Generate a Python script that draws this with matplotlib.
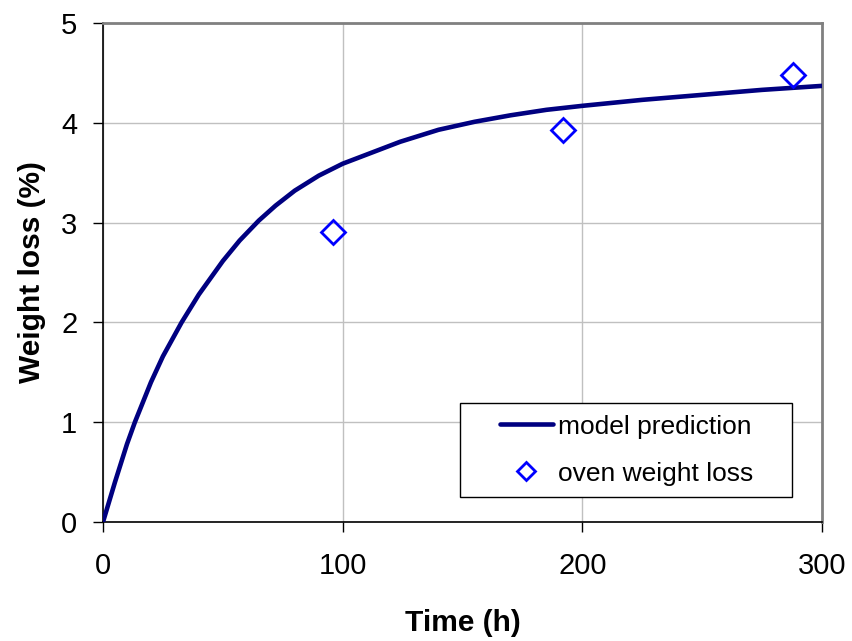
import numpy as np
import matplotlib.pyplot as plt
from matplotlib.patches import Rectangle

plt.rcParams['font.family'] = ['Liberation Sans', 'DejaVu Sans']

# model curve
model_t = [0, 5, 10, 13.3, 20, 25, 32.8, 40, 50, 57, 65, 72, 80, 90, 100,
           112, 124, 140, 155, 170, 185, 200, 225, 250, 275, 300]
model_y = [0, 0.40, 0.78, 1.0, 1.40, 1.66, 2.0, 2.28, 2.615, 2.82, 3.02, 3.17, 3.32,
           3.47, 3.59, 3.70, 3.81, 3.93, 4.01, 4.075, 4.13, 4.17, 4.23, 4.28, 4.33, 4.37]

# oven measurements
oven_t = [96, 192, 288]
oven_y = [2.91, 3.93, 4.48]

fig = plt.figure(figsize=(8.52, 6.41), dpi=100)
ax = fig.add_axes([0.1209, 0.1857, 0.8439, 0.7784])

ax.plot(model_t, model_y, color='#000080', lw=3.3, label='model prediction',
        solid_capstyle='round', solid_joinstyle='round', zorder=3)
ax.plot(oven_t, oven_y, ls='none', marker='D', ms=12, mfc='none', mec='#0000ff',
        mew=2, label='oven weight loss', zorder=4)

ax.set_xlim(0, 300)
ax.set_ylim(0, 5)
ax.set_xticks([0, 100, 200, 300])
ax.set_yticks([0, 1, 2, 3, 4, 5])
ax.grid(True, color='#c0c0c0', lw=1)
ax.set_axisbelow(True)

for s in ['top', 'right']:
    ax.spines[s].set_color('#808080')
    ax.spines[s].set_linewidth(2)
for s in ['left', 'bottom']:
    ax.spines[s].set_color('black')
    ax.spines[s].set_linewidth(1.2)

ax.tick_params(direction='out', length=7.5, width=1, labelsize=21)
ax.tick_params(axis='x', pad=14)
ax.tick_params(axis='y', pad=11)
ax.set_xlabel('Time (h)', fontsize=21.5, fontweight='bold', labelpad=21)
ax.set_ylabel('Weight loss (%)', fontsize=21.5, fontweight='bold', labelpad=11)

leg = ax.legend(loc='center', bbox_to_anchor=(0.728, 0.144), fontsize=19,
                frameon=False, handlelength=2.0, borderpad=0.43, markerscale=0.8,
                labelspacing=0.87, handletextpad=0.2)
leg.set_zorder(6)

# legend box is wider than the content in the original
fig.canvas.draw()
bb = leg.get_window_extent()
dx = 28
inv = ax.transAxes.inverted()
x0, y0 = inv.transform((bb.x0 - dx, bb.y0))
x1, y1 = inv.transform((bb.x1 + dx, bb.y1))
ax.add_patch(Rectangle((x0, y0), x1 - x0, y1 - y0, transform=ax.transAxes,
                       facecolor='white', edgecolor='black', lw=1, zorder=5))

fig.savefig('out.png', dpi=100)
